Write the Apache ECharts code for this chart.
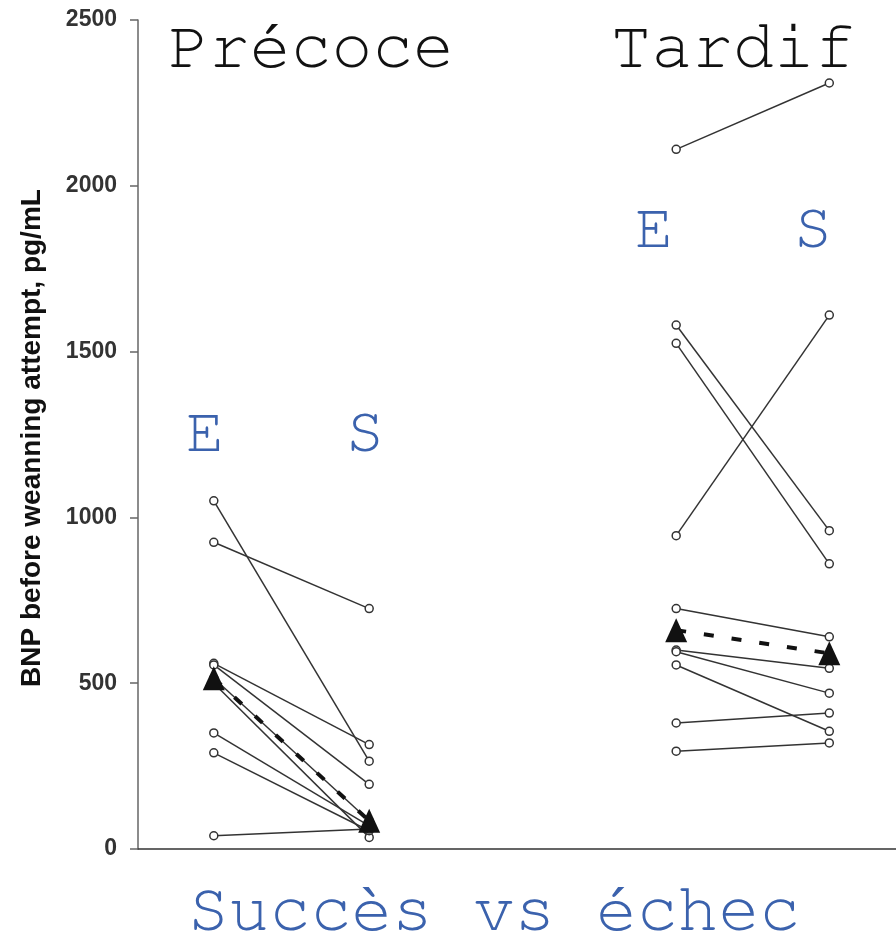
<!DOCTYPE html>
<html>
<head>
<meta charset="utf-8">
<script src="https://cdn.jsdelivr.net/npm/echarts@6/dist/echarts.min.js"></script>
<style>
  html, body { margin: 0; padding: 0; background: #fff; }
  #chart { width: 896px; height: 937px; }
</style>
</head>
<body>
<div id="chart"></div>
<script>
// Paired BNP values (pg/mL): E = before the attempt, S = after, for each patient
const earlyE = [1050, 925, 560, 555, 515, 500, 350, 290, 40];
const earlyS = [265, 725, 315, 195, 85, 35, 70, 55, 60];
const lateE = [2110, 1580, 1525, 945, 725, 600, 595, 555, 380, 295];
const lateS = [2310, 960, 860, 1610, 640, 545, 470, 355, 410, 320];

// Group medians [E, S]
const earlyMedian = [515, 85];
const lateMedian = [660, 590];

// Horizontal positions of the E and S columns on the x value axis
const earlyX = [10, 30.5];
const lateX = [71, 91.2];

const yTicks = [0, 500, 1000, 1500, 2000, 2500];

const chart = echarts.init(document.getElementById('chart'));

const series = [];
function addPairs(eVals, sVals, xs) {
  eVals.forEach((e, i) => {
    series.push({
      type: 'line',
      data: [[xs[0], e], [xs[1], sVals[i]]],
      symbol: 'circle',
      symbolSize: 8,
      itemStyle: { color: '#fff', borderColor: '#333', borderWidth: 1.5 },
      lineStyle: { color: '#333', width: 1.5 },
      silent: true,
      z: 3
    });
  });
}
addPairs(earlyE, earlyS, earlyX);
addPairs(lateE, lateS, lateX);

function addMedian(med, xs) {
  series.push({
    type: 'line',
    data: [[xs[0], med[0]], [xs[1], med[1]]],
    symbol: 'triangle',
    symbolSize: [22, 24],
    itemStyle: { color: '#111', borderWidth: 0 },
    lineStyle: { color: '#111', width: 4, type: [10, 18] },
    silent: true,
    z: 5
  });
}
addMedian(earlyMedian, earlyX);
addMedian(lateMedian, lateX);

const mono = '"Nimbus Mono PS", "Nimbus Mono L", FreeMono, "Courier New", Courier, "Liberation Mono", monospace';
const blue = '#3b62ad';

chart.setOption({
  animation: false,
  backgroundColor: '#fff',
  grid: { left: 138, right: 0, top: 20, bottom: 88, containLabel: false },
  xAxis: {
    type: 'value', min: 0, max: 100,
    axisLine: { show: true, lineStyle: { color: '#333', width: 1.5 } },
    axisTick: { show: false },
    axisLabel: { show: false },
    splitLine: { show: false }
  },
  yAxis: {
    type: 'value', min: yTicks[0], max: yTicks[yTicks.length - 1], interval: 500,
    axisLine: { show: true, lineStyle: { color: '#666', width: 1.5 } },
    axisTick: { show: true, length: 8, lineStyle: { color: '#666', width: 1.5 } },
    axisLabel: {
      margin: 21, fontSize: 23, fontWeight: 'bold', color: '#333',
      fontFamily: '"Liberation Sans", Arial, sans-serif',
      formatter: v => String(v)
    },
    splitLine: { show: false }
  },
  graphic: [
    {
      type: 'text', x: 32, y: 438, rotation: Math.PI / 2,
      style: {
        text: 'BNP before weanning attempt, pg/mL',
        font: 'bold 28px "Liberation Sans", Arial, sans-serif',
        fill: '#111', textAlign: 'center', textVerticalAlign: 'middle'
      }
    },
    { type: 'text', x: 311, y: 47, style: { text: 'Précoce', font: '68px ' + mono, fill: '#111', textAlign: 'center', textVerticalAlign: 'middle' } },
    { type: 'text', x: 733, y: 47, style: { text: 'Tardif', font: '68px ' + mono, fill: '#111', textAlign: 'center', textVerticalAlign: 'middle' } },
    { type: 'text', x: 205, y: 432, style: { text: 'E', font: '64px ' + mono, fill: blue, textAlign: 'center', textVerticalAlign: 'middle' } },
    { type: 'text', x: 365, y: 432, style: { text: 'S', font: '64px ' + mono, fill: blue, textAlign: 'center', textVerticalAlign: 'middle' } },
    { type: 'text', x: 654, y: 228, style: { text: 'E', font: '64px ' + mono, fill: blue, textAlign: 'center', textVerticalAlign: 'middle' } },
    { type: 'text', x: 813, y: 228, style: { text: 'S', font: '64px ' + mono, fill: blue, textAlign: 'center', textVerticalAlign: 'middle' } },
    { type: 'text', x: 494, y: 910, style: { text: 'Succès vs échec', font: '68px ' + mono, fill: blue, textAlign: 'center', textVerticalAlign: 'middle' } }
  ],
  series: series
});
</script>
</body>
</html>
